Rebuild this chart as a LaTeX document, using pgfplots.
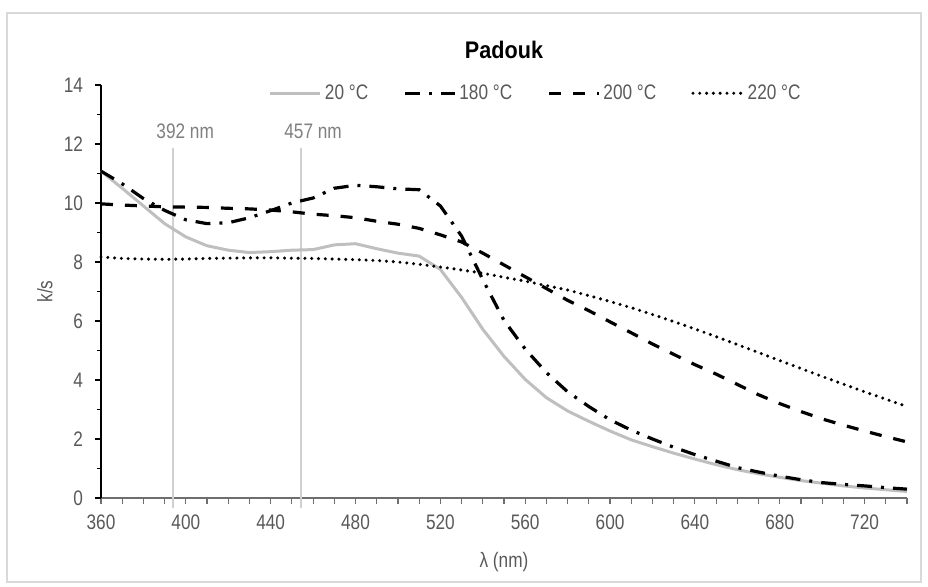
\documentclass[border=0pt]{standalone}
\usepackage{fontspec}
\setmainfont{Liberation Sans}[FakeStretch=0.82]
\newfontfamily\titlefont{Liberation Sans}[FakeStretch=0.9]
\usepackage{pgfplots}
\pgfplotsset{compat=1.18}
\definecolor{textgray}{HTML}{595959}
\definecolor{linegray}{HTML}{BFBFBF}
\definecolor{vlinegray}{HTML}{D0D0D0}
\definecolor{annogray}{HTML}{808080}
\definecolor{framegray}{HTML}{D9D9D9}
\definecolor{xaxisgray}{HTML}{6E6E6E}
\begin{document}
\begin{tikzpicture}
\path[use as bounding box] (-50.5pt,-44.5pt) rectangle (413.5pt,249pt);
\draw[framegray, line width=0.6pt] (-47pt,-42pt) rectangle (410pt,242.5pt);
\begin{axis}[
  scale only axis, width=403pt, height=206.5pt,
  xmin=360, xmax=740, ymin=0, ymax=14,
  axis x line*=bottom, axis y line*=left,
  x axis line style={xaxisgray, line width=1pt},
  y axis line style={black, line width=0.7pt},
  xtick={360,370,...,740},
  xticklabels={360,{},{},{},400,{},{},{},440,{},{},{},480,{},{},{},520,{},{},{},560,{},{},{},600,{},{},{},640,{},{},{},680,{},{},{},720,{},{}},
  ytick={0,2,...,14},
  minor y tick num=1,
  tick align=outside,
  major tick length=3pt, minor tick length=2pt,
  xtick style={xaxisgray, line width=0.6pt},
  ytick style={black, line width=0.6pt},
  /pgf/number format/assume math mode=true,
  ticklabel style={font=\fontsize{10.5}{12}\selectfont, text=textgray},
  xticklabel style={yshift=-2pt},
  yticklabel style={xshift=-2.5pt},
  xlabel={λ (nm)},
  ylabel={k/s},
  label style={font=\fontsize{10.5}{12}\selectfont, text=textgray},
  xlabel style={at={(axis description cs:0.5,-0.155)}, anchor=center},
  ylabel style={at={(axis description cs:-0.0695,0.5)}, anchor=center},
  clip=false,
  legend columns=4,
  legend style={at={(axis description cs:0.54,0.98)}, anchor=center, draw=none, fill=none,
    font=\fontsize{10.5}{12}\selectfont, text=textgray,
    nodes={inner xsep=1.5pt},
    /tikz/every even column/.append style={column sep=16pt}},
  legend image code/.code={\draw[#1] (0pt,0pt) -- (25pt,0pt);},
]
% marker lines
\addplot[vlinegray, line width=0.7pt, forget plot] coordinates {(394,-0.35) (394,11.85)};
\addplot[vlinegray, line width=0.7pt, forget plot] coordinates {(454.3,-0.35) (454.3,11.85)};
\node[text=annogray, font=\fontsize{10.5}{12}\selectfont] at (axis cs:399.7,12.44) {392 nm};
\node[text=annogray, font=\fontsize{10.5}{12}\selectfont] at (axis cs:460,12.44) {457 nm};

\addplot[linegray, line width=1.5pt] coordinates {
(360,11.08) (370,10.50) (380,9.90) (390,9.30) (400,8.85) (410,8.55) (420,8.40) (430,8.32)
(440,8.35) (450,8.40) (460,8.42) (470,8.58) (480,8.62) (490,8.45) (500,8.30) (510,8.20)
(520,7.75) (530,6.80) (540,5.72) (550,4.80) (560,4.02) (570,3.40) (580,2.95) (590,2.60)
(600,2.27) (610,1.97) (620,1.74) (630,1.52) (640,1.32) (650,1.13) (660,0.96) (670,0.82)
(680,0.70) (690,0.59) (700,0.50) (710,0.41) (720,0.34) (730,0.28) (740,0.22)};
\addlegendentry{20 °C}

\addplot[black, line width=1.6pt, dash pattern=on 7.5pt off 4.5pt on 1.5pt off 4.5pt] coordinates {
(360,11.08) (370,10.65) (380,10.15) (390,9.75) (400,9.43) (410,9.30) (420,9.33) (430,9.50)
(440,9.74) (450,10.00) (460,10.17) (470,10.50) (480,10.60) (490,10.55) (500,10.48) (510,10.45)
(520,9.90) (530,8.88) (540,7.40) (550,6.02) (560,5.05) (570,4.25) (580,3.60) (590,3.10)
(600,2.65) (610,2.30) (620,2.00) (630,1.72) (640,1.47) (650,1.25) (660,1.03) (670,0.88)
(680,0.74) (690,0.62) (700,0.52) (710,0.46) (720,0.41) (730,0.35) (740,0.30)};
\addlegendentry{180 °C}

\addplot[black, line width=1.6pt, dash pattern=on 6pt off 6pt] coordinates {
(360,9.97) (370,9.93) (380,9.90) (390,9.87) (400,9.86) (410,9.85) (420,9.82) (430,9.80)
(440,9.76) (450,9.70) (460,9.62) (470,9.57) (480,9.50) (490,9.38) (500,9.28) (510,9.14)
(520,8.92) (530,8.68) (540,8.30) (550,7.90) (560,7.50) (570,7.10) (580,6.70) (590,6.35)
(600,5.97) (610,5.60) (620,5.22) (630,4.87) (640,4.52) (650,4.20) (660,3.85) (670,3.50)
(680,3.20) (690,2.93) (700,2.68) (710,2.47) (720,2.27) (730,2.08) (740,1.90)};
\addlegendentry{200 °C}

\addplot[black, line width=1.7pt, line cap=round, dash pattern=on 0pt off 3.4pt] coordinates {
(360,8.17) (370,8.12) (380,8.10) (390,8.09) (400,8.10) (410,8.12) (420,8.13) (430,8.14)
(440,8.14) (450,8.13) (460,8.12) (470,8.10) (480,8.08) (490,8.05) (500,8.00) (510,7.92)
(520,7.83) (530,7.73) (540,7.62) (550,7.48) (560,7.35) (570,7.20) (580,7.05) (590,6.86)
(600,6.66) (610,6.45) (620,6.22) (630,5.98) (640,5.73) (650,5.47) (660,5.20) (670,4.93)
(680,4.66) (690,4.39) (700,4.12) (710,3.86) (720,3.60) (730,3.35) (740,3.10)};
\addlegendentry{220 °C}
\end{axis}
\node[font=\titlefont\bfseries\fontsize{12}{14}\selectfont] at (201.5pt,224pt) {Padouk};
\end{tikzpicture}
\end{document}
